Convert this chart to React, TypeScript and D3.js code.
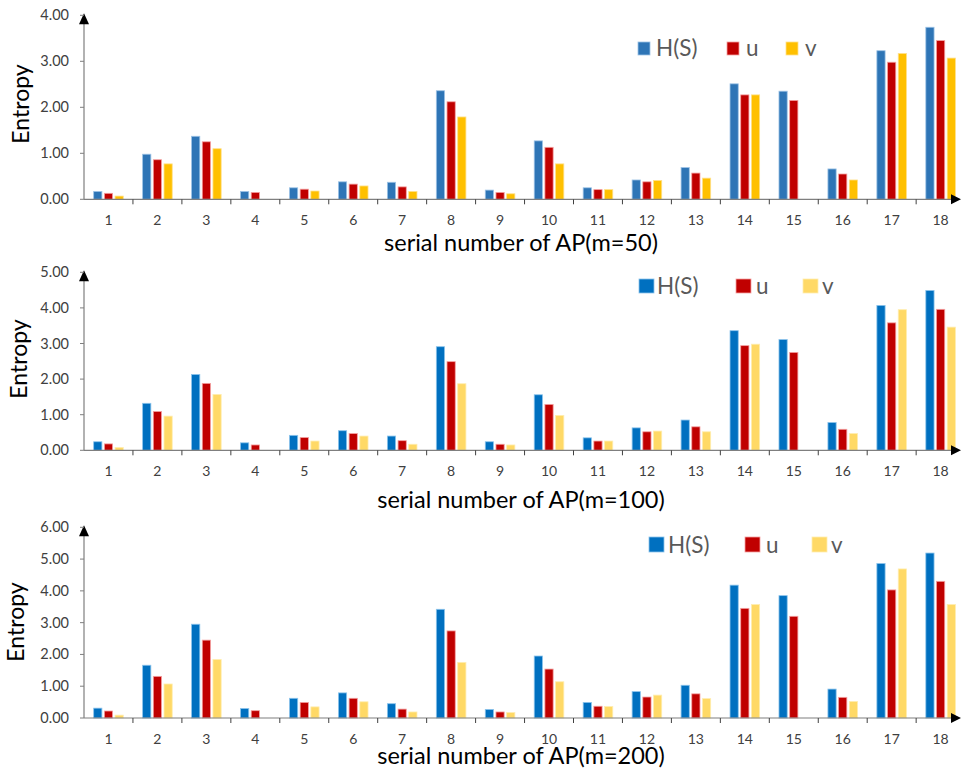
import React, { useEffect, useRef } from 'react';
import * as d3 from 'd3';

const categories = ['1', '2', '3', '4', '5', '6', '7', '8', '9', '10', '11', '12', '13', '14', '15', '16', '17', '18'];
const seriesNames = ['H(S)', 'u', 'v'];

// m = 50
const hs50 = [0.17, 0.98, 1.37, 0.17, 0.25, 0.38, 0.37, 2.36, 0.20, 1.27, 0.25, 0.42, 0.69, 2.51, 2.35, 0.66, 3.23, 3.74];
const u50 = [0.13, 0.86, 1.25, 0.15, 0.22, 0.33, 0.27, 2.12, 0.15, 1.13, 0.21, 0.38, 0.57, 2.27, 2.15, 0.55, 2.98, 3.45];
const v50 = [0.07, 0.77, 1.10, 0, 0.18, 0.29, 0.17, 1.79, 0.12, 0.77, 0.21, 0.41, 0.46, 2.27, 0, 0.42, 3.17, 3.07];

// m = 100
const hs100 = [0.24, 1.32, 2.13, 0.21, 0.42, 0.55, 0.40, 2.91, 0.24, 1.56, 0.35, 0.63, 0.85, 3.36, 3.11, 0.78, 4.07, 4.49];
const u100 = [0.18, 1.09, 1.88, 0.15, 0.36, 0.47, 0.27, 2.49, 0.17, 1.29, 0.26, 0.52, 0.66, 2.94, 2.75, 0.59, 3.58, 3.96];
const v100 = [0.08, 0.96, 1.57, 0, 0.26, 0.40, 0.17, 1.87, 0.15, 0.98, 0.26, 0.54, 0.52, 2.98, 0, 0.47, 3.95, 3.46];

// m = 200
const hs200 = [0.31, 1.66, 2.95, 0.30, 0.62, 0.79, 0.45, 3.42, 0.27, 1.95, 0.49, 0.83, 1.03, 4.18, 3.85, 0.91, 4.86, 5.19];
const u200 = [0.22, 1.31, 2.45, 0.23, 0.49, 0.62, 0.28, 2.74, 0.19, 1.54, 0.37, 0.66, 0.76, 3.45, 3.20, 0.65, 4.03, 4.30];
const v200 = [0.09, 1.07, 1.84, 0, 0.35, 0.51, 0.19, 1.75, 0.17, 1.14, 0.36, 0.72, 0.61, 3.57, 0, 0.52, 4.69, 3.57];

const yTicks50 = [0, 1, 2, 3, 4];
const yTicks100 = [0, 1, 2, 3, 4, 5];
const yTicks200 = [0, 1, 2, 3, 4, 5, 6];

const FONT = 'Lato, "Open Sans", sans-serif';

const panels = [
  {
    series: [hs50, u50, v50], ticks: yTicks50, max: 4, base: 199.3, top: 15.3,
    colors: ['#2E75B6', '#C00000', '#FFC000'], edges: ['#9DC3E6', '#F4A0A0', '#FFE08A'],
    title: 'serial number of AP(m=50)', titleY: 251, yLabelX: 29, yLabelY: 104,
    legend: { y: 42, h: 13, w: 12, xs: [638, 727, 786], tx: [656, 746, 805] },
  },
  {
    series: [hs100, u100, v100], ticks: yTicks100, max: 5, base: 450.3, top: 272.3,
    colors: ['#0070C0', '#C00000', '#FFD966'], edges: ['#8CC4EC', '#F4A0A0', '#FFEDB0'],
    title: 'serial number of AP(m=100)', titleY: 508, yLabelX: 27, yLabelY: 359,
    legend: { y: 279, h: 14, w: 15, xs: [639, 736, 803], tx: [657, 756, 822] },
  },
  {
    series: [hs200, u200, v200], ticks: yTicks200, max: 6, base: 718, top: 527.3,
    colors: ['#0070C0', '#C00000', '#FFD966'], edges: ['#8CC4EC', '#F4A0A0', '#FFEDB0'],
    title: 'serial number of AP(m=200)', titleY: 764, yLabelX: 24, yLabelY: 622,
    legend: { y: 537, h: 15, w: 15, xs: [649, 745, 812], tx: [668, 766, 831] },
  },
];

const App: React.FC = () => {
  const svgRef = useRef<SVGSVGElement>(null);

  useEffect(() => {
    if (!svgRef.current) return;
    const width = 961;
    const height = 772;
    const axisX = 84;

    const svg = d3.select(svgRef.current)
      .attr('width', width)
      .attr('height', height);
    svg.selectAll('*').remove();

    svg.append('rect').attr('width', width).attr('height', height).attr('fill', '#fff');

    const x = d3.scaleBand<string>()
      .domain(categories)
      .range([axisX, axisX + 18 * 48.95])
      .paddingInner(0)
      .paddingOuter(0);

    const inner = d3.scaleBand<string>()
      .domain(seriesNames)
      .range([-14.8, 14.8])
      .paddingInner(0.23)
      .paddingOuter(0);

    panels.forEach(p => {
      const g = svg.append('g');
      const y = d3.scaleLinear().domain([0, p.max]).range([p.base, p.top]);

      // bars
      p.series.forEach((vals, si) => {
        g.selectAll(null)
          .data(vals.map((v, i) => ({ v, cat: categories[i] })).filter(d => d.v > 0))
          .enter()
          .append('rect')
          .attr('x', d => (x(d.cat) as number) + x.bandwidth() / 2 + (inner(seriesNames[si]) as number))
          .attr('y', d => y(d.v))
          .attr('width', inner.bandwidth())
          .attr('height', d => y(0) - y(d.v))
          .attr('fill', p.colors[si])
          .attr('stroke', p.edges[si])
          .attr('stroke-width', 0.8);
      });

      // y axis
      g.append('line')
        .attr('x1', axisX).attr('x2', axisX)
        .attr('y1', y(0)).attr('y2', y(p.max) + 6)
        .attr('stroke', '#7f7f7f').attr('stroke-width', 1.2);
      g.append('path')
        .attr('d', `M${axisX},${y(p.max) - 2} L${axisX - 5},${y(p.max) + 9} L${axisX + 5},${y(p.max) + 9} Z`)
        .attr('fill', '#000');

      g.selectAll(null)
        .data(p.ticks)
        .enter()
        .append('line')
        .attr('x1', axisX - 4).attr('x2', axisX)
        .attr('y1', d => y(d)).attr('y2', d => y(d))
        .attr('stroke', '#7f7f7f');

      g.selectAll(null)
        .data(p.ticks)
        .enter()
        .append('text')
        .attr('x', axisX - 15)
        .attr('y', d => y(d) + 5)
        .attr('text-anchor', 'end')
        .attr('font-family', FONT)
        .attr('font-size', 14.5)
        .attr('fill', '#404040')
        .text(d => d3.format('.2f')(d));

      // x axis
      g.append('line')
        .attr('x1', axisX).attr('x2', width - 7)
        .attr('y1', y(0)).attr('y2', y(0))
        .attr('stroke', '#7f7f7f').attr('stroke-width', 1.2);
      g.append('path')
        .attr('d', `M${width},${y(0)} L${width - 10},${y(0) - 5} L${width - 10},${y(0) + 5} Z`)
        .attr('fill', '#000');

      g.selectAll(null)
        .data(categories.slice(1))
        .enter()
        .append('line')
        .attr('x1', d => x(d) as number).attr('x2', d => x(d) as number)
        .attr('y1', y(0)).attr('y2', y(0) + 5)
        .attr('stroke', '#404040');

      g.selectAll(null)
        .data(categories)
        .enter()
        .append('text')
        .attr('x', d => (x(d) as number) + x.bandwidth() / 2)
        .attr('y', y(0) + 26)
        .attr('text-anchor', 'middle')
        .attr('font-family', FONT)
        .attr('font-size', 14)
        .attr('fill', '#404040')
        .text(d => d);

      // titles
      g.append('text')
        .attr('x', 521)
        .attr('y', p.titleY)
        .attr('text-anchor', 'middle')
        .attr('font-family', FONT)
        .attr('font-size', 23.5)
        .attr('fill', '#000')
        .text(p.title);

      g.append('text')
        .attr('transform', `translate(${p.yLabelX},${p.yLabelY}) rotate(-90)`)
        .attr('text-anchor', 'middle')
        .attr('font-family', FONT)
        .attr('font-size', 23)
        .attr('fill', '#000')
        .text('Entropy');

      // legend
      seriesNames.forEach((name, si) => {
        g.append('rect')
          .attr('x', p.legend.xs[si])
          .attr('y', p.legend.y)
          .attr('width', p.legend.w)
          .attr('height', p.legend.h)
          .attr('fill', p.colors[si])
          .attr('stroke', p.edges[si])
          .attr('stroke-width', 0.8);
        g.append('text')
          .attr('x', p.legend.tx[si])
          .attr('y', p.legend.y + p.legend.h + 1)
          .attr('font-family', FONT)
          .attr('font-size', 22.5)
          .attr('fill', '#595959')
          .text(name);
      });
    });
  }, []);

  return (
    <div style={{ position: 'absolute', left: 0, top: 0 }}>
      <svg ref={svgRef} style={{ display: 'block' }} />
    </div>
  );
};

export default App;
